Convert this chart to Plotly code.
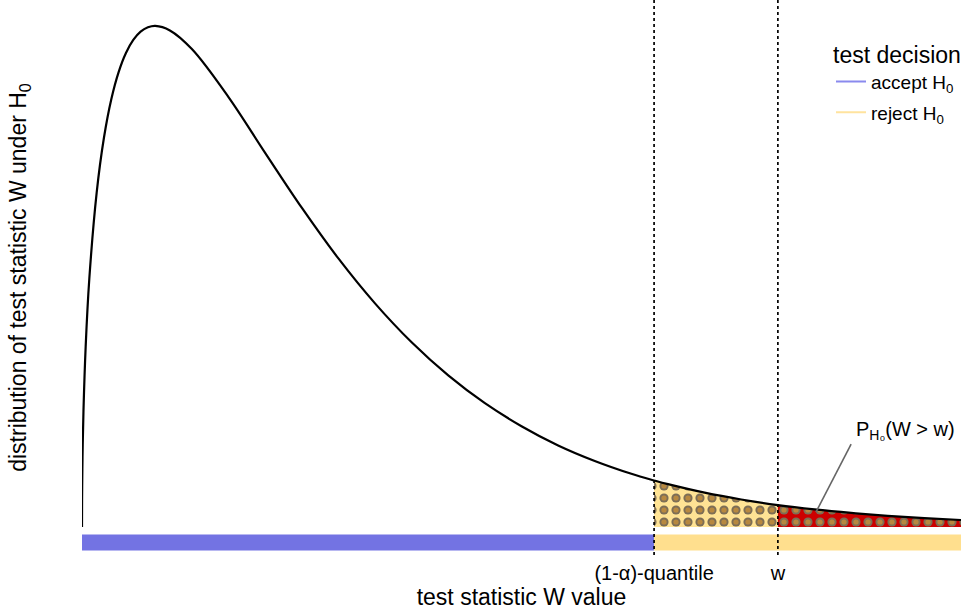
import plotly.graph_objects as go

# ---- data ----
w_values = [0, 0.001, 0.005, 0.01, 0.02, 0.05, 0.1, 0.2, 0.3, 0.4, 0.5, 0.6, 0.7, 0.8, 0.9,
            1.0, 1.2, 1.5, 2.0, 2.5, 3.0, 3.5, 4.0, 4.5, 5.0, 5.5, 6.0, 6.5, 7.0, 7.5,
            7.81, 8.0, 8.5, 9.0, 9.5, 10.0, 10.5, 11.0, 11.5, 12.0]
density = [0.0, 0.0126, 0.0281, 0.0397, 0.0559, 0.0870, 0.1200, 0.1614, 0.1881, 0.2066,
           0.2197, 0.2289, 0.2352, 0.2392, 0.2413, 0.2420, 0.2398, 0.2308, 0.2076, 0.1807,
           0.1542, 0.1297, 0.1080, 0.0892, 0.0732, 0.0598, 0.0487, 0.0394, 0.0319, 0.0257,
           0.0225, 0.0207, 0.0166, 0.0133, 0.0106, 0.0085, 0.0068, 0.0054, 0.0043, 0.0034]
quantile = 7.81
w_obs = 9.5
tick_vals = [quantile, w_obs]
tick_text = ["(1-α)-quantile", "w"]
decisions = ["accept H<sub>0</sub>", "reject H<sub>0</sub>"]

# ---- styles ----
FONT = "Liberation Sans, Arial, sans-serif"
BLUE_BAR = "#7373E3"
YEL_BAR = "#FFDF8E"
BLUE_LEG = "#8A8AEE"
YEL_LEG = "#FFE39E"
HATCH_BG = "#FFE394"
RING = "#7D6E55"
DOT = "#F2A22A"
RED = "#CC0000"
bar_level = -0.0075
y_range = [-0.0135, 0.2545]

fig = go.Figure()

# shaded regions under the curve
x_rej = [x for x in w_values if quantile <= x <= w_obs]
y_rej = [d for x, d in zip(w_values, density) if quantile <= x <= w_obs]
x_p = [x for x in w_values if x >= w_obs]
y_p = [d for x, d in zip(w_values, density) if x >= w_obs]

for xs, ys, bg in [(x_rej, y_rej, HATCH_BG), (x_p, y_p, RED)]:
    fig.add_trace(go.Scatter(x=xs, y=ys, mode="none", fill="tozeroy", line_shape="spline",
                             fillpattern=dict(shape=".", size=12, solidity=0.46,
                                              fgcolor=RING, bgcolor=bg, fillmode="replace"),
                             showlegend=False, hoverinfo="skip"))
    fig.add_trace(go.Scatter(x=xs, y=ys, mode="none", fill="tozeroy", line_shape="spline",
                             fillcolor="rgba(0,0,0,0)",
                             fillpattern=dict(shape=".", size=12, solidity=0.15,
                                              fgcolor=DOT, bgcolor="rgba(0,0,0,0)",
                                              fillmode="overlay"),
                             showlegend=False, hoverinfo="skip"))

# density curve
fig.add_trace(go.Scatter(x=w_values, y=density, mode="lines", line=dict(color="black", width=2.2,
                         shape="spline"), showlegend=False, hoverinfo="skip"))

# decision bar
fig.add_trace(go.Scatter(x=[w_values[0], quantile], y=[bar_level, bar_level], mode="lines",
                         line=dict(color=BLUE_BAR, width=16), showlegend=False, hoverinfo="skip"))
fig.add_trace(go.Scatter(x=[quantile, w_values[-1]], y=[bar_level, bar_level], mode="lines",
                         line=dict(color=YEL_BAR, width=16), showlegend=False, hoverinfo="skip"))

# legend entries
for name, col in zip(decisions, [BLUE_LEG, YEL_LEG]):
    fig.add_trace(go.Scatter(x=[None], y=[None], mode="lines", name=name, legendgroup=name,
                             line=dict(color=col, width=2)))

# vertical dotted lines
for v in tick_vals:
    fig.add_vline(x=v, line=dict(color="black", width=1.7, dash="dot"))

# annotation pointer
fig.add_shape(type="line", x0=10.02, y0=0.0072, x1=10.5, y1=0.0400,
              line=dict(color="#666666", width=1.6))
fig.add_annotation(x=11.95, y=0.0465, xref="x", yref="y", text="P<sub>H₀</sub>(W > w)",
                   showarrow=False, xanchor="right", yanchor="middle",
                   font=dict(family=FONT, size=20, color="black"))

fig.update_layout(
    width=963, height=613,
    margin=dict(l=82, r=0, t=0, b=58),
    paper_bgcolor="white", plot_bgcolor="white",
    font=dict(family=FONT, color="black"),
    showlegend=True,
    legend=dict(x=0.8525, y=0.941, xanchor="left", yanchor="top",
                bgcolor="rgba(0,0,0,0)", tracegroupgap=3,
                title=dict(text="test decision", font=dict(size=23)),
                font=dict(size=19), itemwidth=30),
    xaxis=dict(range=[w_values[0], w_values[-1]], showgrid=False, zeroline=False,
               showline=False, ticks="", tickvals=tick_vals, ticktext=tick_text,
               tickfont=dict(size=20), ticklabelstandoff=4,
               title=dict(text="test statistic W value", font=dict(size=23), standoff=2)),
    yaxis=dict(range=y_range, showgrid=False, zeroline=False, showline=False,
               showticklabels=False, ticks="",
               title=dict(text="distribution of test statistic W under H<sub>0</sub>",
                          font=dict(size=23), standoff=47)),
)

fig.write_html("out.html", post_script="document.body.style.margin='0';",
               config={"displayModeBar": False})
